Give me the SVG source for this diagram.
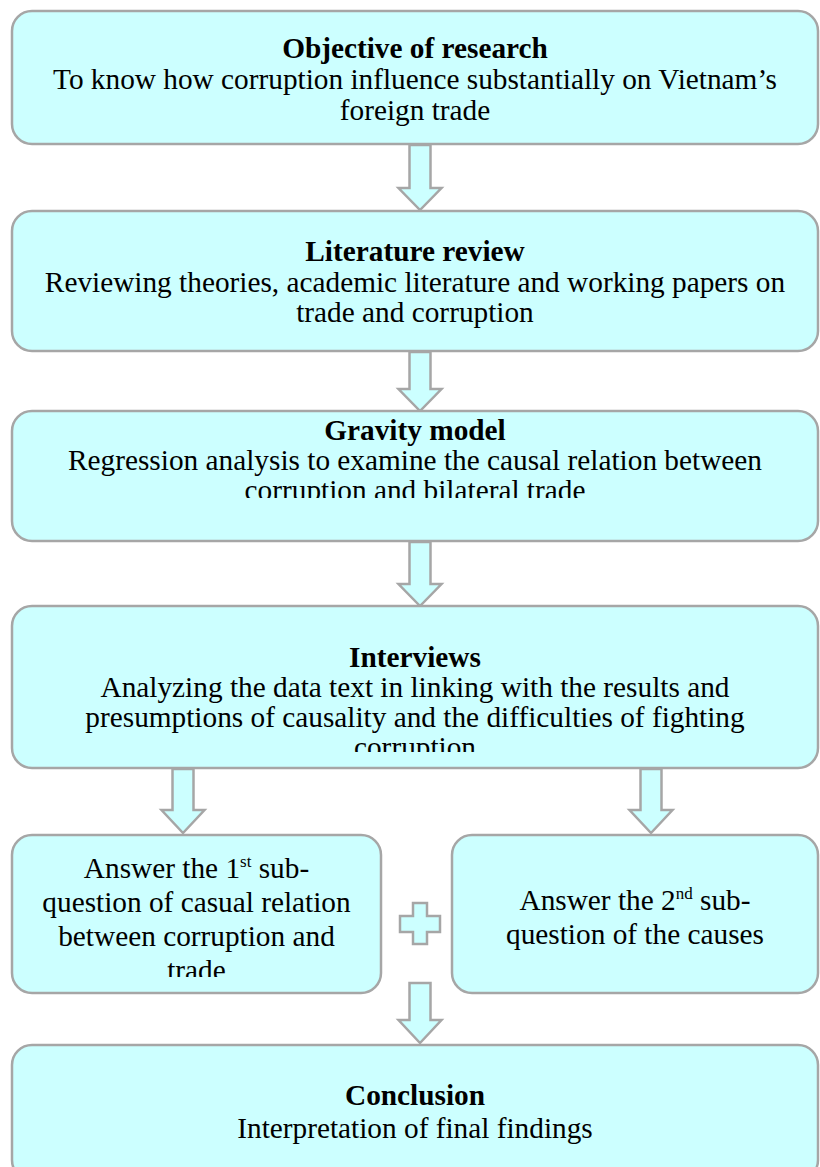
<svg xmlns="http://www.w3.org/2000/svg" width="820" height="1167" viewBox="0 0 820 1167">
  <style>
    .box { fill: #CCFFFF; stroke: #A6A6A6; stroke-width: 2.5; }
    .arrow { fill: #CCFFFF; stroke: #A6A6A6; stroke-width: 2.5; stroke-linejoin: miter; }
    text { font-family: "Liberation Serif", "Times New Roman", serif; font-size: 29.3px; fill: #000; text-anchor: middle; }
    .title { font-weight: bold; }
  </style>
  <defs>
    <clipPath id="clip-gravity"><rect x="0" y="405" width="820" height="93"/></clipPath>
    <clipPath id="clip-interviews"><rect x="0" y="600" width="820" height="152"/></clipPath>
    <clipPath id="clip-answer1"><rect x="0" y="830" width="400" height="147"/></clipPath>
  </defs>

  <!-- connectors: block arrows and the plus sign -->
  <g id="connectors">
    <path class="arrow" d="M409.5,145 H430.5 V188 H441.5 L420,210 L398.5,188 H409.5 Z"/>
    <path class="arrow" d="M409.5,352 H430.5 V389 H441.5 L420,411 L398.5,389 H409.5 Z"/>
    <path class="arrow" d="M409.5,542 H430.5 V584 H441.5 L420,606 L398.5,584 H409.5 Z"/>
    <path class="arrow" d="M172.5,769 H193.5 V810 H204.5 L183,833 L161.5,810 H172.5 Z"/>
    <path class="arrow" d="M640.5,769 H661.5 V810 H672.5 L651,833 L629.5,810 H640.5 Z"/>
    <path class="arrow" d="M409.5,983 H430.5 V1020 H441.5 L420,1043 L398.5,1020 H409.5 Z"/>
    <path class="arrow" d="M413,903 H427 V916 H440 V932 H427 V944 H413 V932 H400 V916 H413 Z"/>
  </g>

  <g id="objective">
    <rect class="box" x="12" y="11" width="806" height="133" rx="20"/>
    <text class="title" x="415" y="58">Objective of research</text>
    <text x="415" y="89">To know how corruption influence substantially on Vietnam’s</text>
    <text x="415" y="120">foreign trade</text>
  </g>

  <g id="literature">
    <rect class="box" x="12" y="211" width="806" height="140" rx="20"/>
    <text class="title" x="415" y="261">Literature review</text>
    <text x="415" y="292">Reviewing theories, academic literature and working papers on</text>
    <text x="415" y="322">trade and corruption</text>
  </g>

  <g id="gravity">
    <rect class="box" x="12" y="411" width="806" height="130" rx="20"/>
    <g clip-path="url(#clip-gravity)">
      <text class="title" x="415" y="440">Gravity model</text>
      <text x="415" y="470">Regression analysis to examine the causal relation between</text>
      <text x="415" y="500">corruption and bilateral trade</text>
    </g>
  </g>

  <g id="interviews">
    <rect class="box" x="12" y="606" width="806" height="162" rx="20"/>
    <g clip-path="url(#clip-interviews)">
      <text class="title" x="415" y="667">Interviews</text>
      <text x="415" y="697">Analyzing the data text in linking with the results and</text>
      <text x="415" y="727">presumptions of causality and the difficulties of fighting</text>
      <text x="415" y="757">corruption</text>
    </g>
  </g>

  <g id="answer-first">
    <rect class="box" x="12" y="835" width="369" height="158" rx="20"/>
    <g clip-path="url(#clip-answer1)">
      <text x="196.5" y="878">Answer the 1<tspan font-size="17" dy="-11">st</tspan><tspan dy="11"> sub-</tspan></text>
      <text x="196.5" y="912">question of casual relation</text>
      <text x="196.5" y="946">between corruption and</text>
      <text x="196.5" y="980">trade</text>
    </g>
  </g>

  <g id="answer-second">
    <rect class="box" x="452" y="835" width="366" height="158" rx="20"/>
    <text x="635" y="910">Answer the 2<tspan font-size="17" dy="-11">nd</tspan><tspan dy="11"> sub-</tspan></text>
    <text x="635" y="944">question of the causes</text>
  </g>

  <g id="conclusion">
    <rect class="box" x="12" y="1045" width="806" height="135" rx="20"/>
    <text class="title" x="415" y="1105">Conclusion</text>
    <text x="415" y="1138">Interpretation of final findings</text>
  </g>
</svg>
